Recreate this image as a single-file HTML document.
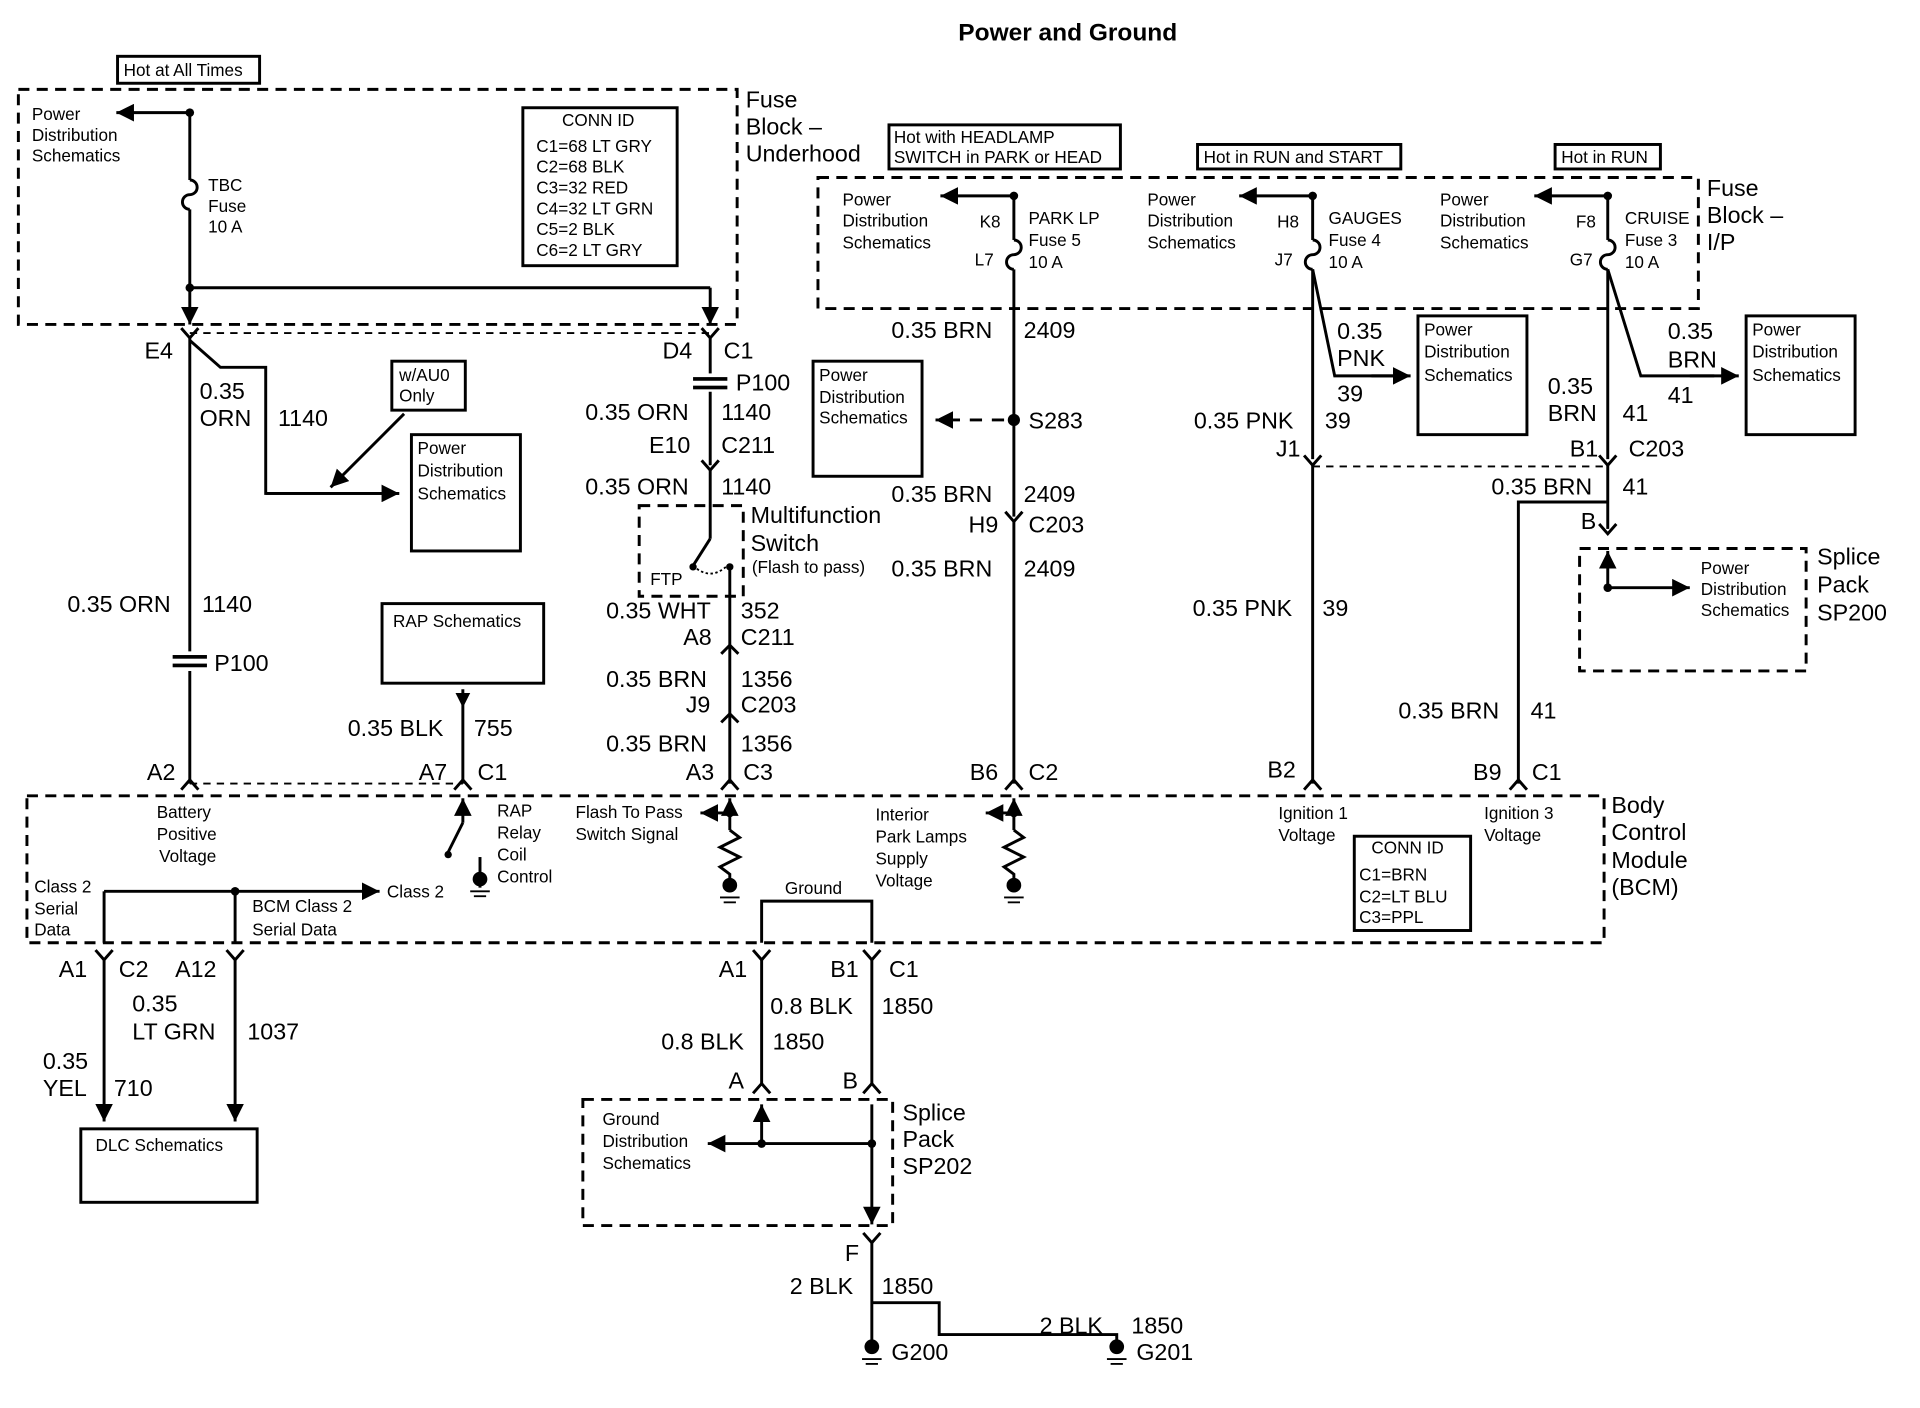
<!DOCTYPE html>
<html><head><meta charset="utf-8"><style>
html,body{margin:0;padding:0;background:#fff;}
svg{display:block;}
text{font-family:"Liberation Sans",Arial,sans-serif;fill:#000;}
.s{font-size:14px;}
.l{font-size:19px;}
.t{font-size:20px;font-weight:bold;}
</style></head><body>
<svg width="1920" height="1408" viewBox="0 0 1568 1150" preserveAspectRatio="none" xmlns="http://www.w3.org/2000/svg">
<defs>
<marker id="a" viewBox="0 0 10 10" refX="10" refY="5" markerWidth="6" markerHeight="6" orient="auto-start-reverse"><path d="M0,0L10,5L0,10z" fill="#000"/></marker>
</defs>
<g stroke="#000" stroke-width="2.4" fill="none">
<rect x="15" y="73" width="587" height="192" stroke-dasharray="9,6"/>
<rect x="668" y="145" width="719" height="107" stroke-dasharray="9,6"/>
<rect x="22" y="650" width="1288" height="120" stroke-dasharray="9,6"/>
<rect x="522" y="413" width="85" height="74" stroke-dasharray="9,6"/>
<rect x="1290" y="448" width="185" height="100" stroke-dasharray="9,6"/>
<rect x="476" y="898" width="253" height="103" stroke-dasharray="9,6"/>
<line x1="155" y1="272" x2="580" y2="272" stroke-dasharray="6,5" stroke-width="1.5"/>
<line x1="1072" y1="381" x2="1313" y2="381" stroke-dasharray="6,5" stroke-width="1.5"/>
<line x1="155" y1="640" x2="378" y2="640" stroke-dasharray="6,5" stroke-width="1.5"/>
<rect x="96" y="46" width="116" height="22"/>
<rect x="427" y="88" width="126" height="129"/>
<rect x="726" y="102" width="189" height="36"/>
<rect x="978" y="118" width="166" height="20"/>
<rect x="1270" y="118" width="86" height="20"/>
<rect x="320" y="295" width="60" height="40"/>
<rect x="336" y="355" width="89" height="95"/>
<rect x="664" y="295" width="89" height="94"/>
<rect x="1158" y="258" width="89" height="97"/>
<rect x="1426" y="258" width="89" height="97"/>
<rect x="312" y="493" width="132" height="65"/>
<rect x="1106" y="683" width="95" height="77"/>
<rect x="66" y="922" width="144" height="60"/>
<line x1="155" y1="92" x2="155" y2="147"/>
<path d="M155,147 a6,6 0 0 1 0,12 a6,6 0 0 0 0,12"/>
<line x1="155" y1="171" x2="155" y2="265" marker-end="url(#a)"/>
<line x1="155" y1="92" x2="95" y2="92" marker-end="url(#a)"/>
<line x1="155" y1="235" x2="580" y2="235"/>
<line x1="580" y1="235" x2="580" y2="265" marker-end="url(#a)"/>
<path d="M148,268 L155,276 L162,268"/>
<line x1="155" y1="276" x2="155" y2="532"/>
<line x1="155" y1="548" x2="155" y2="640"/>
<path d="M148,645 L155,637 L162,645"/>
<path d="M155,278 L180,300 L217,300 L217,403 L326,403" />
<line x1="217" y1="403" x2="326" y2="403" marker-end="url(#a)"/>
<line x1="330" y1="338" x2="270" y2="398" marker-end="url(#a)"/>
<path d="M573,268 L580,276 L587,268"/>
<line x1="580" y1="276" x2="580" y2="305"/>
<line x1="580" y1="320" x2="580" y2="380"/>
<path d="M573,376 L580,384 L587,376"/>
<line x1="580" y1="384" x2="580" y2="440"/>
<line x1="580" y1="440" x2="566" y2="462"/>
<path d="M566,462 Q580,475 594,462" stroke-dasharray="2,2" stroke-width="1.5"/>
<line x1="596" y1="463" x2="596" y2="640"/>
<path d="M589,534 L596,527 L603,534"/>
<path d="M589,590 L596,583 L603,590"/>
<path d="M589,645 L596,637 L603,645"/>
<line x1="378" y1="563" x2="378" y2="640"/>
<path d="M371,645 L378,637 L385,645"/>
<line x1="378" y1="672" x2="378" y2="652" marker-end="url(#a)"/>
<line x1="378" y1="672" x2="366" y2="696"/>
<line x1="392" y1="700" x2="392" y2="725"/>
<line x1="828" y1="160" x2="828" y2="196"/>
<path d="M828,196 a6,6 0 0 1 0,12 a6,6 0 0 0 0,12"/>
<line x1="828" y1="220" x2="828" y2="422"/>
<path d="M821,418 L828,426 L835,418"/>
<line x1="828" y1="426" x2="828" y2="640"/>
<path d="M821,645 L828,637 L835,645"/>
<line x1="828" y1="160" x2="768" y2="160" marker-end="url(#a)"/>
<line x1="820" y1="343" x2="764" y2="343" stroke-dasharray="10,8" marker-end="url(#a)"/>
<line x1="828" y1="664" x2="805" y2="664" marker-end="url(#a)"/>
<line x1="828" y1="664" x2="828" y2="652" marker-end="url(#a)"/>
<path d="M828,678 l8,6 l-16,8 l16,8 l-16,8 l8,6 v14"/>
<line x1="828" y1="664" x2="828" y2="678"/>
<line x1="596" y1="664" x2="572" y2="664" marker-end="url(#a)"/>
<line x1="596" y1="664" x2="596" y2="652" marker-end="url(#a)"/>
<line x1="596" y1="664" x2="596" y2="678"/>
<path d="M596,678 l8,6 l-16,8 l16,8 l-16,8 l8,6 v14"/>
<line x1="1072" y1="160" x2="1072" y2="196"/>
<path d="M1072,196 a6,6 0 0 1 0,12 a6,6 0 0 0 0,12"/>
<line x1="1072" y1="220" x2="1072" y2="375"/>
<path d="M1065,372 L1072,380 L1079,372"/>
<line x1="1072" y1="380" x2="1072" y2="640"/>
<path d="M1065,645 L1072,637 L1079,645"/>
<line x1="1072" y1="160" x2="1012" y2="160" marker-end="url(#a)"/>
<path d="M1072,220 L1090,307 L1150,307"/>
<line x1="1120" y1="307" x2="1152" y2="307" marker-end="url(#a)"/>
<line x1="1313" y1="160" x2="1313" y2="196"/>
<path d="M1313,196 a6,6 0 0 1 0,12 a6,6 0 0 0 0,12"/>
<line x1="1313" y1="220" x2="1313" y2="375"/>
<path d="M1306,372 L1313,380 L1320,372"/>
<line x1="1313" y1="380" x2="1313" y2="432"/>
<path d="M1306,428 L1313,436 L1320,428"/>
<line x1="1313" y1="160" x2="1253" y2="160" marker-end="url(#a)"/>
<path d="M1313,220 L1340,307 L1400,307"/>
<line x1="1380" y1="307" x2="1420" y2="307" marker-end="url(#a)"/>
<line x1="1313" y1="480" x2="1313" y2="450" marker-end="url(#a)"/>
<line x1="1313" y1="480" x2="1380" y2="480" marker-end="url(#a)"/>
<path d="M1313,410 L1240,410 L1240,640"/>
<path d="M1233,645 L1240,637 L1247,645"/>
<line x1="85" y1="728" x2="310" y2="728" marker-end="url(#a)"/>
<line x1="85" y1="728" x2="85" y2="770"/>
<line x1="192" y1="728" x2="192" y2="770"/>
<path d="M78,776 L85,784 L92,776"/>
<path d="M185,776 L192,784 L199,776"/>
<line x1="85" y1="784" x2="85" y2="916" marker-end="url(#a)"/>
<line x1="192" y1="784" x2="192" y2="916" marker-end="url(#a)"/>
<path d="M622,770 L622,736 L712,736 L712,770"/>
<path d="M615,776 L622,784 L629,776"/>
<path d="M705,776 L712,784 L719,776"/>
<line x1="622" y1="784" x2="622" y2="886"/>
<line x1="712" y1="784" x2="712" y2="886"/>
<path d="M615,893 L622,885 L629,893"/>
<path d="M705,893 L712,885 L719,893"/>
<line x1="622" y1="934" x2="622" y2="902" marker-end="url(#a)"/>
<line x1="712" y1="902" x2="712" y2="1000" marker-end="url(#a)"/>
<line x1="712" y1="934" x2="578" y2="934" marker-end="url(#a)"/>
<path d="M705,1007 L712,1015 L719,1007"/>
<line x1="712" y1="1015" x2="712" y2="1100"/>
<path d="M712,1064 L767,1064 L767,1090 L912,1090 L912,1100"/>
</g>
<g fill="#000">
<circle cx="155" cy="92" r="3.5"/><circle cx="155" cy="235" r="3.5"/>
<circle cx="828" cy="160" r="3.5"/><circle cx="828" cy="343" r="5"/><circle cx="828" cy="664" r="3.5"/>
<circle cx="1072" cy="160" r="3.5"/><circle cx="1313" cy="160" r="3.5"/>
<circle cx="596" cy="664" r="3.5"/><circle cx="192" cy="728" r="3.5"/>
<circle cx="622" cy="934" r="3.5"/><circle cx="712" cy="934" r="3.5"/><circle cx="1313" cy="480" r="3.5"/>
<circle cx="566" cy="463" r="3"/><circle cx="596" cy="463" r="3"/><circle cx="366" cy="698" r="3"/>
<path d="M372,566 L384,566 L378,578z"/>
<rect x="141" y="535" width="28" height="3"/><rect x="141" y="542" width="28" height="3"/>
<rect x="566" y="308" width="28" height="3"/><rect x="566" y="315" width="28" height="3"/>
<circle cx="392" cy="718" r="6"/><circle cx="596" cy="723" r="6"/><circle cx="828" cy="723" r="6"/>
<circle cx="712" cy="1100" r="6"/><circle cx="912" cy="1100" r="6"/>
</g>
<g stroke="#000" stroke-width="1.5">
<line x1="384" y1="728" x2="400" y2="728"/><line x1="387" y1="732" x2="397" y2="732"/>
<line x1="588" y1="733" x2="604" y2="733"/><line x1="591" y1="737" x2="601" y2="737"/>
<line x1="820" y1="733" x2="836" y2="733"/><line x1="823" y1="737" x2="833" y2="737"/>
<line x1="704" y1="1110" x2="720" y2="1110"/><line x1="707" y1="1114" x2="717" y2="1114"/>
<line x1="904" y1="1110" x2="920" y2="1110"/><line x1="907" y1="1114" x2="917" y2="1114"/>
</g>
<text class="t" x="872" y="33" text-anchor="middle">Power and Ground</text>
<g class="s">
<text x="101" y="62">Hot at All Times</text>
<text x="26" y="98">Power</text><text x="26" y="115">Distribution</text><text x="26" y="132">Schematics</text>
<text x="170" y="156">TBC</text><text x="170" y="173">Fuse</text><text x="170" y="190">10 A</text>
<text x="459" y="103">CONN ID</text>
<text x="438" y="124">C1=68 LT GRY</text><text x="438" y="141">C2=68 BLK</text><text x="438" y="158">C3=32 RED</text><text x="438" y="175">C4=32 LT GRN</text><text x="438" y="192">C5=2 BLK</text><text x="438" y="209">C6=2 LT GRY</text>
<text x="730" y="117">Hot with HEADLAMP</text><text x="730" y="133">SWITCH in PARK or HEAD</text>
<text x="983" y="133">Hot in RUN and START</text>
<text x="1275" y="133">Hot in RUN</text>
<text x="688" y="168">Power</text><text x="688" y="185">Distribution</text><text x="688" y="203">Schematics</text>
<text x="800" y="186">K8</text><text x="796" y="217">L7</text>
<text x="840" y="183">PARK LP</text><text x="840" y="201">Fuse 5</text><text x="840" y="219">10 A</text>
<text x="937" y="168">Power</text><text x="937" y="185">Distribution</text><text x="937" y="203">Schematics</text>
<text x="1043" y="186">H8</text><text x="1041" y="217">J7</text>
<text x="1085" y="183">GAUGES</text><text x="1085" y="201">Fuse 4</text><text x="1085" y="219">10 A</text>
<text x="1176" y="168">Power</text><text x="1176" y="185">Distribution</text><text x="1176" y="203">Schematics</text>
<text x="1287" y="186">F8</text><text x="1282" y="217">G7</text>
<text x="1327" y="183">CRUISE</text><text x="1327" y="201">Fuse 3</text><text x="1327" y="219">10 A</text>
<text x="326" y="311">w/AU0</text><text x="326" y="328">Only</text>
<text x="341" y="371">Power</text><text x="341" y="389">Distribution</text><text x="341" y="408">Schematics</text>
<text x="669" y="311">Power</text><text x="669" y="329">Distribution</text><text x="669" y="346">Schematics</text>
<text x="1163" y="274">Power</text><text x="1163" y="292">Distribution</text><text x="1163" y="311">Schematics</text>
<text x="1431" y="274">Power</text><text x="1431" y="292">Distribution</text><text x="1431" y="311">Schematics</text>
<text x="1389" y="469">Power</text><text x="1389" y="486">Distribution</text><text x="1389" y="503">Schematics</text>
<text x="321" y="512">RAP Schematics</text>
<text x="614" y="468">(Flash to pass)</text>
<text x="531" y="478">FTP</text>
<text x="128" y="668">Battery</text><text x="128" y="686">Positive</text><text x="130" y="704">Voltage</text>
<text x="406" y="667">RAP</text><text x="406" y="685">Relay</text><text x="406" y="703">Coil</text><text x="406" y="721">Control</text>
<text x="470" y="668">Flash To Pass</text><text x="470" y="686">Switch Signal</text>
<text x="715" y="670">Interior</text><text x="715" y="688">Park Lamps</text><text x="715" y="706">Supply</text><text x="715" y="724">Voltage</text>
<text x="1044" y="669">Ignition 1</text><text x="1044" y="687">Voltage</text>
<text x="1212" y="669">Ignition 3</text><text x="1212" y="687">Voltage</text>
<text x="1120" y="697">CONN ID</text><text x="1110" y="719">C1=BRN</text><text x="1110" y="737">C2=LT BLU</text><text x="1110" y="754">C3=PPL</text>
<text x="28" y="729">Class 2</text><text x="28" y="747">Serial</text><text x="28" y="764">Data</text>
<text x="206" y="745">BCM Class 2</text><text x="206" y="764">Serial Data</text>
<text x="316" y="733">Class 2</text>
<text x="641" y="730">Ground</text>
<text x="78" y="940">DLC Schematics</text>
<text x="492" y="919">Ground</text><text x="492" y="937">Distribution</text><text x="492" y="955">Schematics</text>
</g>
<g class="l">
<text x="609" y="88">Fuse</text><text x="609" y="110">Block –</text><text x="609" y="132">Underhood</text>
<text x="1394" y="160">Fuse</text><text x="1394" y="182">Block –</text><text x="1394" y="204">I/P</text>
<text x="118" y="293">E4</text><text x="541" y="293">D4</text><text x="591" y="293">C1</text>
<text x="163" y="326">0.35</text><text x="163" y="348">ORN</text><text x="227" y="348">1140</text>
<text x="601" y="319">P100</text>
<text x="478" y="343">0.35 ORN</text><text x="589" y="343">1140</text>
<text x="530" y="370">E10</text><text x="589" y="370">C211</text>
<text x="478" y="404">0.35 ORN</text><text x="589" y="404">1140</text>
<text x="613" y="427">Multifunction</text><text x="613" y="450">Switch</text>
<text x="728" y="276">0.35 BRN</text><text x="836" y="276">2409</text>
<text x="840" y="350">S283</text>
<text x="728" y="410">0.35 BRN</text><text x="836" y="410">2409</text>
<text x="791" y="435">H9</text><text x="840" y="435">C203</text>
<text x="728" y="471">0.35 BRN</text><text x="836" y="471">2409</text>
<text x="1092" y="277">0.35</text><text x="1092" y="299">PNK</text><text x="1092" y="328">39</text>
<text x="975" y="350">0.35 PNK</text><text x="1082" y="350">39</text>
<text x="1042" y="373">J1</text>
<text x="1264" y="322">0.35</text><text x="1264" y="344">BRN</text><text x="1325" y="344">41</text>
<text x="1362" y="277">0.35</text><text x="1362" y="300">BRN</text><text x="1362" y="329">41</text>
<text x="1282" y="373">B1</text><text x="1330" y="373">C203</text>
<text x="1218" y="404">0.35 BRN</text><text x="1325" y="404">41</text>
<text x="1291" y="432">B</text>
<text x="1484" y="461">Splice</text><text x="1484" y="484">Pack</text><text x="1484" y="507">SP200</text>
<text x="974" y="503">0.35 PNK</text><text x="1080" y="503">39</text>
<text x="1142" y="587">0.35 BRN</text><text x="1250" y="587">41</text>
<text x="55" y="500">0.35 ORN</text><text x="165" y="500">1140</text>
<text x="175" y="548">P100</text>
<text x="495" y="505">0.35 WHT</text><text x="605" y="505">352</text>
<text x="558" y="527">A8</text><text x="605" y="527">C211</text>
<text x="495" y="561">0.35 BRN</text><text x="605" y="561">1356</text>
<text x="560" y="582">J9</text><text x="605" y="582">C203</text>
<text x="495" y="614">0.35 BRN</text><text x="605" y="614">1356</text>
<text x="284" y="601">0.35 BLK</text><text x="387" y="601">755</text>
<text x="120" y="637">A2</text><text x="342" y="637">A7</text><text x="390" y="637">C1</text>
<text x="560" y="637">A3</text><text x="607" y="637">C3</text>
<text x="792" y="637">B6</text><text x="840" y="637">C2</text>
<text x="1035" y="635">B2</text><text x="1203" y="637">B9</text><text x="1251" y="637">C1</text>
<text x="1316" y="664">Body</text><text x="1316" y="686">Control</text><text x="1316" y="709">Module</text><text x="1316" y="731">(BCM)</text>
<text x="48" y="798">A1</text><text x="97" y="798">C2</text><text x="143" y="798">A12</text>
<text x="108" y="826">0.35</text><text x="108" y="849">LT GRN</text><text x="202" y="849">1037</text>
<text x="35" y="873">0.35</text><text x="35" y="895">YEL</text><text x="93" y="895">710</text>
<text x="587" y="798">A1</text><text x="678" y="798">B1</text><text x="726" y="798">C1</text>
<text x="629" y="828">0.8 BLK</text><text x="720" y="828">1850</text>
<text x="540" y="857">0.8 BLK</text><text x="631" y="857">1850</text>
<text x="595" y="889">A</text><text x="688" y="889">B</text>
<text x="737" y="915">Splice</text><text x="737" y="937">Pack</text><text x="737" y="959">SP202</text>
<text x="690" y="1030">F</text>
<text x="645" y="1057">2 BLK</text><text x="720" y="1057">1850</text>
<text x="849" y="1089">2 BLK</text><text x="924" y="1089">1850</text>
<text x="728" y="1111">G200</text><text x="928" y="1111">G201</text>
</g>
</svg>
</body></html>
